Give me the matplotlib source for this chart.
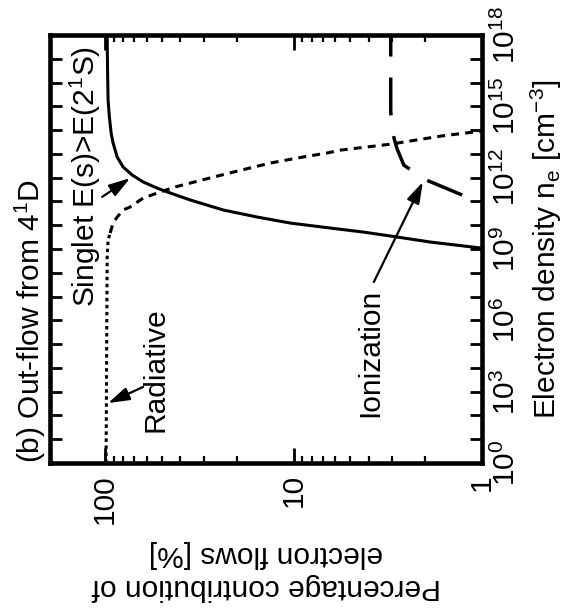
import numpy as np
import matplotlib
matplotlib.use("Agg")
import matplotlib.pyplot as plt
from matplotlib.ticker import NullFormatter

plt.rcParams['font.family'] = ['Liberation Sans', 'DejaVu Sans']
plt.rcParams['mathtext.fontset'] = 'custom'
plt.rcParams['mathtext.rm'] = 'Liberation Sans'
plt.rcParams['mathtext.it'] = 'Liberation Sans:italic'
plt.rcParams['mathtext.bf'] = 'Liberation Sans:bold'

# ---- data: percentage of out-flow vs log10(n_e) ----
singlet_pct = [97.5, 97.0, 96.4, 95.0, 92.9, 90.7, 86.3, 80.2, 71.8, 62.8,
               52.9, 46.8, 35.3, 23.6, 15.5, 10.4, 6.36, 4.24, 2.80, 1.87, 1.01]
singlet_ne_exp = [18.0, 16.5, 15.27, 14.6, 13.88, 13.46, 12.87, 12.45, 12.11, 11.82,
                  11.56, 11.40, 11.06, 10.64, 10.34, 10.09, 9.88, 9.71, 9.50, 9.29, 9.04]

radiative_pct = [98.8, 97.5, 96.4, 94.0, 90.7, 86.3, 80.2, 73.5, 62.9, 50.9,
                 42.4, 29.3, 19.8, 13.2, 8.87, 6.61, 5.62, 3.05, 1.65, 1.0]
radiative_ne_exp = [0.0, 8.66, 9.38, 9.67, 10.09, 10.34, 10.64, 10.77, 11.14, 11.40,
                    11.61, 11.94, 12.28, 12.62, 12.87, 13.04, 13.16, 13.41, 13.75, 13.96]

ionization_pct = [1.0, 1.31, 2.03, 2.60, 2.83, 3.01, 3.05, 3.05]
ionization_ne_exp = [10.98, 11.31, 11.94, 12.53, 13.24, 14.0, 14.84, 18.0]

pct_ticks = [1, 10, 100]
pct_ticklabels = ["1", "10", "100"]
ne_tick_exp = [0, 3, 6, 9, 12, 15, 18]
ne_ticklabels = ["$10^{%d}$" % e for e in ne_tick_exp]

singlet_ne = 10.0 ** np.array(singlet_ne_exp)
radiative_ne = 10.0 ** np.array(radiative_ne_exp)
ionization_ne = 10.0 ** np.array(ionization_ne_exp)
radiative_pct = np.array(radiative_pct)

FS = 21.5

fig = plt.figure(figsize=(5.71, 6.15), dpi=100)
ax = fig.add_axes([50 / 571, 1 - 463 / 615, 432 / 571, 428 / 615])

# figure is drawn turned on its side: percentage runs right->left, n_e bottom->top
ax.plot(singlet_pct, singlet_ne, color='k', lw=2.2, solid_capstyle='butt')

# radiative: fine dots on the flat part, coarser dashes on the bend
flat = radiative_ne <= 10 ** 9.67
ax.plot(radiative_pct[flat], radiative_ne[flat], color='k', lw=2.2,
        linestyle=(0, (1.15, 1.15)), dash_capstyle='butt')
idx = np.where(flat)[0][-1]
ax.plot(radiative_pct[idx:], radiative_ne[idx:], color='k', lw=2.2,
        linestyle=(0, (2.6, 2.0)), dash_capstyle='butt')

ax.plot(ionization_pct, ionization_ne, color='k', lw=2.5,
        linestyle=(10.9, (10.9, 6.05)), dash_capstyle='butt')

ax.set_xscale('log')
ax.set_yscale('log')
ax.set_xlim(196, 1)
ax.set_ylim(1, 1e18)

ax.set_xticks(pct_ticks)
ax.set_xticklabels(pct_ticklabels, rotation=90, fontsize=FS)
ax.set_yticks(10.0 ** np.array(ne_tick_exp))
ax.set_yticks([10.0 ** e for e in range(19) if e % 3 != 0], minor=True)
ax.set_yticklabels(ne_ticklabels, rotation=90, fontsize=FS, va='center')
ax.yaxis.set_minor_formatter(NullFormatter())
ax.xaxis.set_minor_formatter(NullFormatter())

ax.tick_params(which='both', direction='in', top=True, bottom=True,
               left=True, right=True, labelleft=False, labelright=True,
               labelbottom=True, labeltop=False)
ax.tick_params(axis='y', which='both', length=8.6, width=2.0, pad=7)
ax.tick_params(axis='x', which='major', length=11, width=2.0, pad=8)
ax.tick_params(axis='x', which='minor', length=5, width=1.6)

for sp in ax.spines.values():
    sp.set_linewidth(3.3)

ax.set_xlabel("Percentage contribution of\nelectron flows [%]", rotation=180,
              fontsize=FS, labelpad=12, linespacing=1.2)
ax.yaxis.set_label_position('right')
ax.set_ylabel("Electron density n$_\\mathrm{e}$ [cm$^{-3}$]", fontsize=FS,
              rotation=90, labelpad=6)

# title sits on the left, running upward
ax.text(-0.046, 0.0, "(b) Out-flow from 4$^\\mathrm{1}$D", transform=ax.transAxes,
        rotation=90, ha='center', va='bottom', fontsize=FS)

ax.text(127.7, 10 ** 6.56, "Singlet E(s)>E(2$^\\mathrm{1}$S)", rotation=90,
        ha='center', va='bottom', fontsize=FS)
ax.text(54.2, 10 ** 1.30, "Radiative", rotation=90, ha='center', va='bottom',
        fontsize=FS)
ax.text(3.9, 10 ** 1.93, "Ionization", rotation=90, ha='center', va='bottom',
        fontsize=FS)

arrow = dict(arrowstyle='-|>,head_length=0.65,head_width=0.2', color='k',
             lw=1.6, shrinkA=0, shrinkB=0, mutation_scale=20)
ax.annotate("", xy=(96.4, 10 ** 2.52), xytext=(62.8, 10 ** 3.20), arrowprops=arrow)
ax.annotate("", xy=(73.6, 10 ** 11.98), xytext=(103.7, 10 ** 11.19), arrowprops=arrow)
ax.annotate("", xy=(2.06, 10 ** 11.82), xytext=(3.75, 10 ** 7.61), arrowprops=arrow)

fig.savefig("out.png", dpi=100)
